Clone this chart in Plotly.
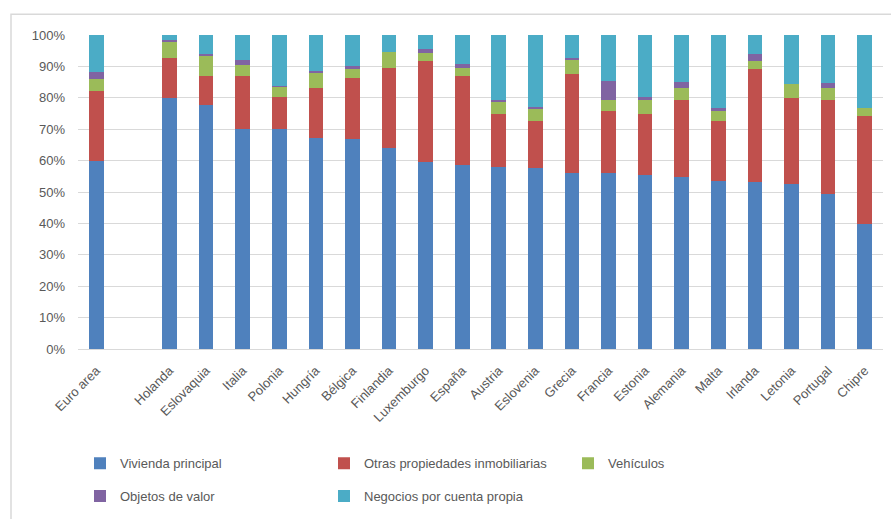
import plotly.graph_objects as go

# Categories (the single-space entry leaves an empty slot after the euro-area bar)
paises = ["Euro area", " ", "Holanda", "Eslovaquia", "Italia", "Polonia", "Hungría",
          "Bélgica", "Finlandia", "Luxemburgo", "España", "Austria", "Eslovenia",
          "Grecia", "Francia", "Estonia", "Alemania", "Malta", "Irlanda", "Letonia",
          "Portugal", "Chipre"]

# Shares of total real assets (%)
vivienda_principal = [60.0, None, 80.0, 77.6, 70.0, 70.0, 67.3, 66.8, 64.0, 59.4, 58.5,
                      58.0, 57.6, 56.2, 55.9, 55.4, 54.8, 53.6, 53.1, 52.5, 49.4, 39.9]
otras_propiedades = [22.3, None, 12.6, 9.4, 17.0, 10.3, 15.8, 19.5, 25.5, 32.2, 28.3,
                     16.7, 15.0, 31.5, 19.8, 19.3, 24.6, 19.0, 36.0, 27.5, 30.0, 34.2]
vehiculos = [3.7, None, 5.3, 6.4, 3.3, 3.3, 4.8, 2.8, 5.0, 2.6, 2.7,
             3.9, 3.9, 4.6, 3.7, 4.7, 3.7, 3.1, 2.7, 4.5, 3.7, 2.7]
objetos_valor = [2.2, None, 0.5, 0.5, 1.8, 0.2, 0.5, 0.9, 0.0, 1.3, 1.3,
                 0.8, 0.6, 0.5, 6.0, 0.9, 1.8, 1.1, 2.2, 0.0, 1.5, 0.0]
negocios = [11.8, None, 1.6, 6.1, 7.9, 16.2, 11.6, 10.0, 5.5, 4.5, 9.2,
            20.6, 22.9, 7.2, 14.6, 19.7, 15.1, 23.2, 6.0, 15.5, 15.4, 23.2]

y_ticks = [0, 10, 20, 30, 40, 50, 60, 70, 80, 90, 100]
y_tick_text = [f"{v}%" for v in y_ticks]

series = [
    ("Vivienda principal", vivienda_principal, "#4F81BD", "legend"),
    ("Otras propiedades inmobiliarias", otras_propiedades, "#C0504D", "legend"),
    ("Vehículos", vehiculos, "#9BBB59", "legend"),
    ("Objetos de valor", objetos_valor, "#8064A2", "legend2"),
    ("Negocios por cuenta propia", negocios, "#4BACC6", "legend2"),
]

TXT = "#595959"
FONT = "Liberation Sans"

fig = go.Figure()
for name, vals, color, leg in series:
    fig.add_trace(go.Bar(
        x=paises, y=vals, name=name, marker_color=color,
        marker_line_width=0, legend=leg,
    ))

# Plot area geometry (px)
L, R, T, B = 78, 8, 35, 168
W, H = 891, 519
pw, ph = W - L - R, H - T - B


def px_x(p):
    return (p - L) / pw


def px_y(p):
    return (H - B - p) / ph


leg_common = dict(
    orientation="h", xanchor="left", yanchor="middle",
    font=dict(family=FONT, size=13, color=TXT),
    bgcolor="rgba(0,0,0,0)", entrywidthmode="pixels", entrywidth=199,
    traceorder="normal", itemwidth=30,
)

fig.update_layout(
    width=W, height=H,
    margin=dict(l=L, r=R, t=T, b=B),
    barmode="stack", bargap=0.6,
    plot_bgcolor="white", paper_bgcolor="white",
    font=dict(family=FONT, size=13, color=TXT),
    legend=dict(x=px_x(80), y=px_y(466), **leg_common),
    legend2=dict(x=px_x(80), y=px_y(499), **leg_common),
    xaxis=dict(
        type="category", tickangle=-45, showgrid=False,
        showline=True, linecolor="#D9D9D9", linewidth=1,
        tickfont=dict(family=FONT, size=13, color=TXT),
        ticks="", ticklabelstandoff=8, fixedrange=True,
    ),
    yaxis=dict(
        range=[0, 100], tickvals=y_ticks, ticktext=y_tick_text,
        showgrid=True, gridcolor="#D9D9D9", gridwidth=1,
        zeroline=False, showline=False, ticks="",
        ticklabelstandoff=12,
        tickfont=dict(family=FONT, size=13, color=TXT),
    ),
    shapes=[dict(
        type="rect", xref="paper", yref="paper",
        x0=px_x(11), x1=px_x(893), y0=px_y(524), y1=px_y(14),
        line=dict(color="#D9D9D9", width=1.5), fillcolor="rgba(0,0,0,0)",
        layer="below",
    )],
)

fig.write_html("out.html")
